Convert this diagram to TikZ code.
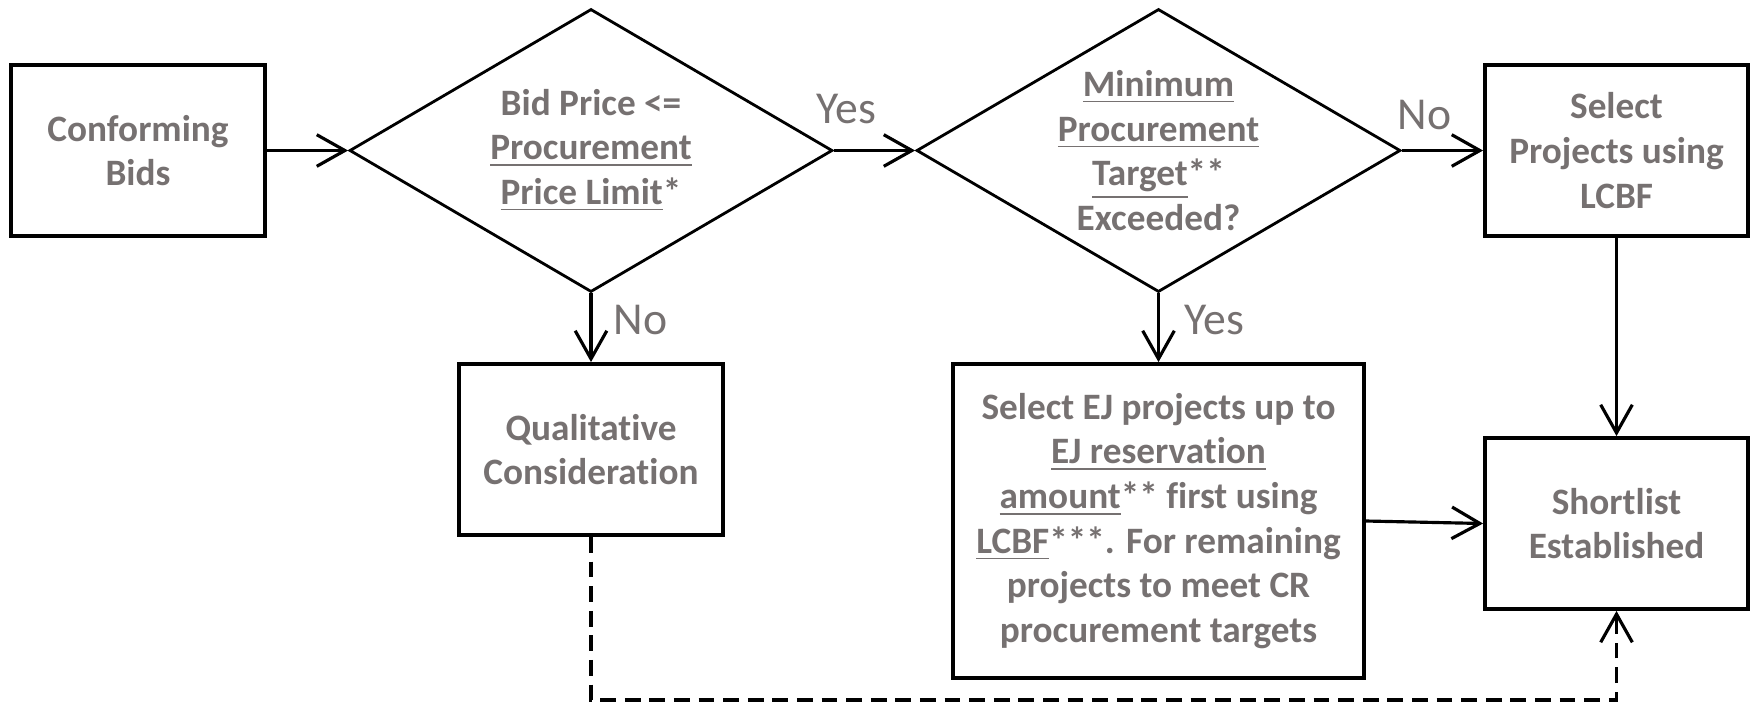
\documentclass[tikz,border=0pt]{standalone}
\usepackage{fontspec}
\setmainfont{Carlito}[Ligatures=CommonOff]
\usetikzlibrary{arrows.meta,shapes.geometric}
\definecolor{txtgray}{RGB}{118,113,113}

\begin{document}
\begin{tikzpicture}[>={Straight Barb[length=8pt,width=9pt]},
    procbox/.style={draw,line width=1.1pt,inner sep=0pt,align=center,text=txtgray,
      font=\fontsize{10.6}{12.7}\selectfont\bfseries},
    decision/.style={procbox,diamond,aspect=1.71,inner sep=-3pt,line width=0.8pt},
    answer/.style={text=txtgray,font=\fontsize{13}{15}\selectfont,inner sep=1pt},
    link/.style={->,line width=0.9pt}]
  \useasboundingbox (0,0) rectangle (17.55,7.03);
  \node[procbox,minimum width=2.54cm,minimum height=1.71cm] (bids) at (1.38,5.525) {Conforming\\Bids};
  \node[decision,minimum width=4.83cm,minimum height=2.83cm] (price) at (5.91,5.525)
    {Bid Price <=\\\underline{Procurement}\\\underline{Price Limit}*};
  \node[decision,minimum width=4.84cm,minimum height=2.83cm] (target) at (11.585,5.525)
    {\underline{Minimum}\\\underline{Procurement}\\\underline{Target}**\\Exceeded?};
  \node[procbox,minimum width=2.63cm,minimum height=1.71cm] (lcbf) at (16.165,5.525) {Select\\Projects using\\LCBF};
  \node[procbox,minimum width=2.64cm,minimum height=1.71cm] (qual) at (5.91,2.535) {Qualitative\\Consideration};
  \node[procbox,minimum width=4.11cm,minimum height=3.14cm] (ej) at (11.585,1.82)
    {Select EJ projects up to\\\underline{EJ reservation}\\\underline{amount}** first using\\
     \underline{LCBF}***. For remaining\\projects to meet CR\\procurement targets};
  \node[procbox,minimum width=2.63cm,minimum height=1.71cm] (short) at (16.165,1.795) {Shortlist\\Established};
  \coordinate (dashbase) at (5.91,0.03);

  \draw[link] (bids.east) -- (price.west);
  \draw[link] (price.east) -- node[answer,above=6pt,pos=0.15] (yes1) {Yes} (target.west);
  \draw[link] (target.east) -- node[answer,above=4.5pt,pos=0.28] (no2) {No} (lcbf.west);
  \draw[link] (price.south) -- node[answer,right=5pt,pos=0.39] (no1) {No} (qual.north);
  \draw[link] (target.south) -- node[answer,right=6pt,pos=0.39] (yes2) {Yes} (ej.north);
  \draw[link] (lcbf.south) -- (short.north);
  \draw[link] (ej.east) -- (short.west);
  \draw[link,dash pattern=on 4.5pt off 2.5pt] (qual.south) -- (qual.south |- dashbase) -| (short.south);
\end{tikzpicture}
\end{document}
